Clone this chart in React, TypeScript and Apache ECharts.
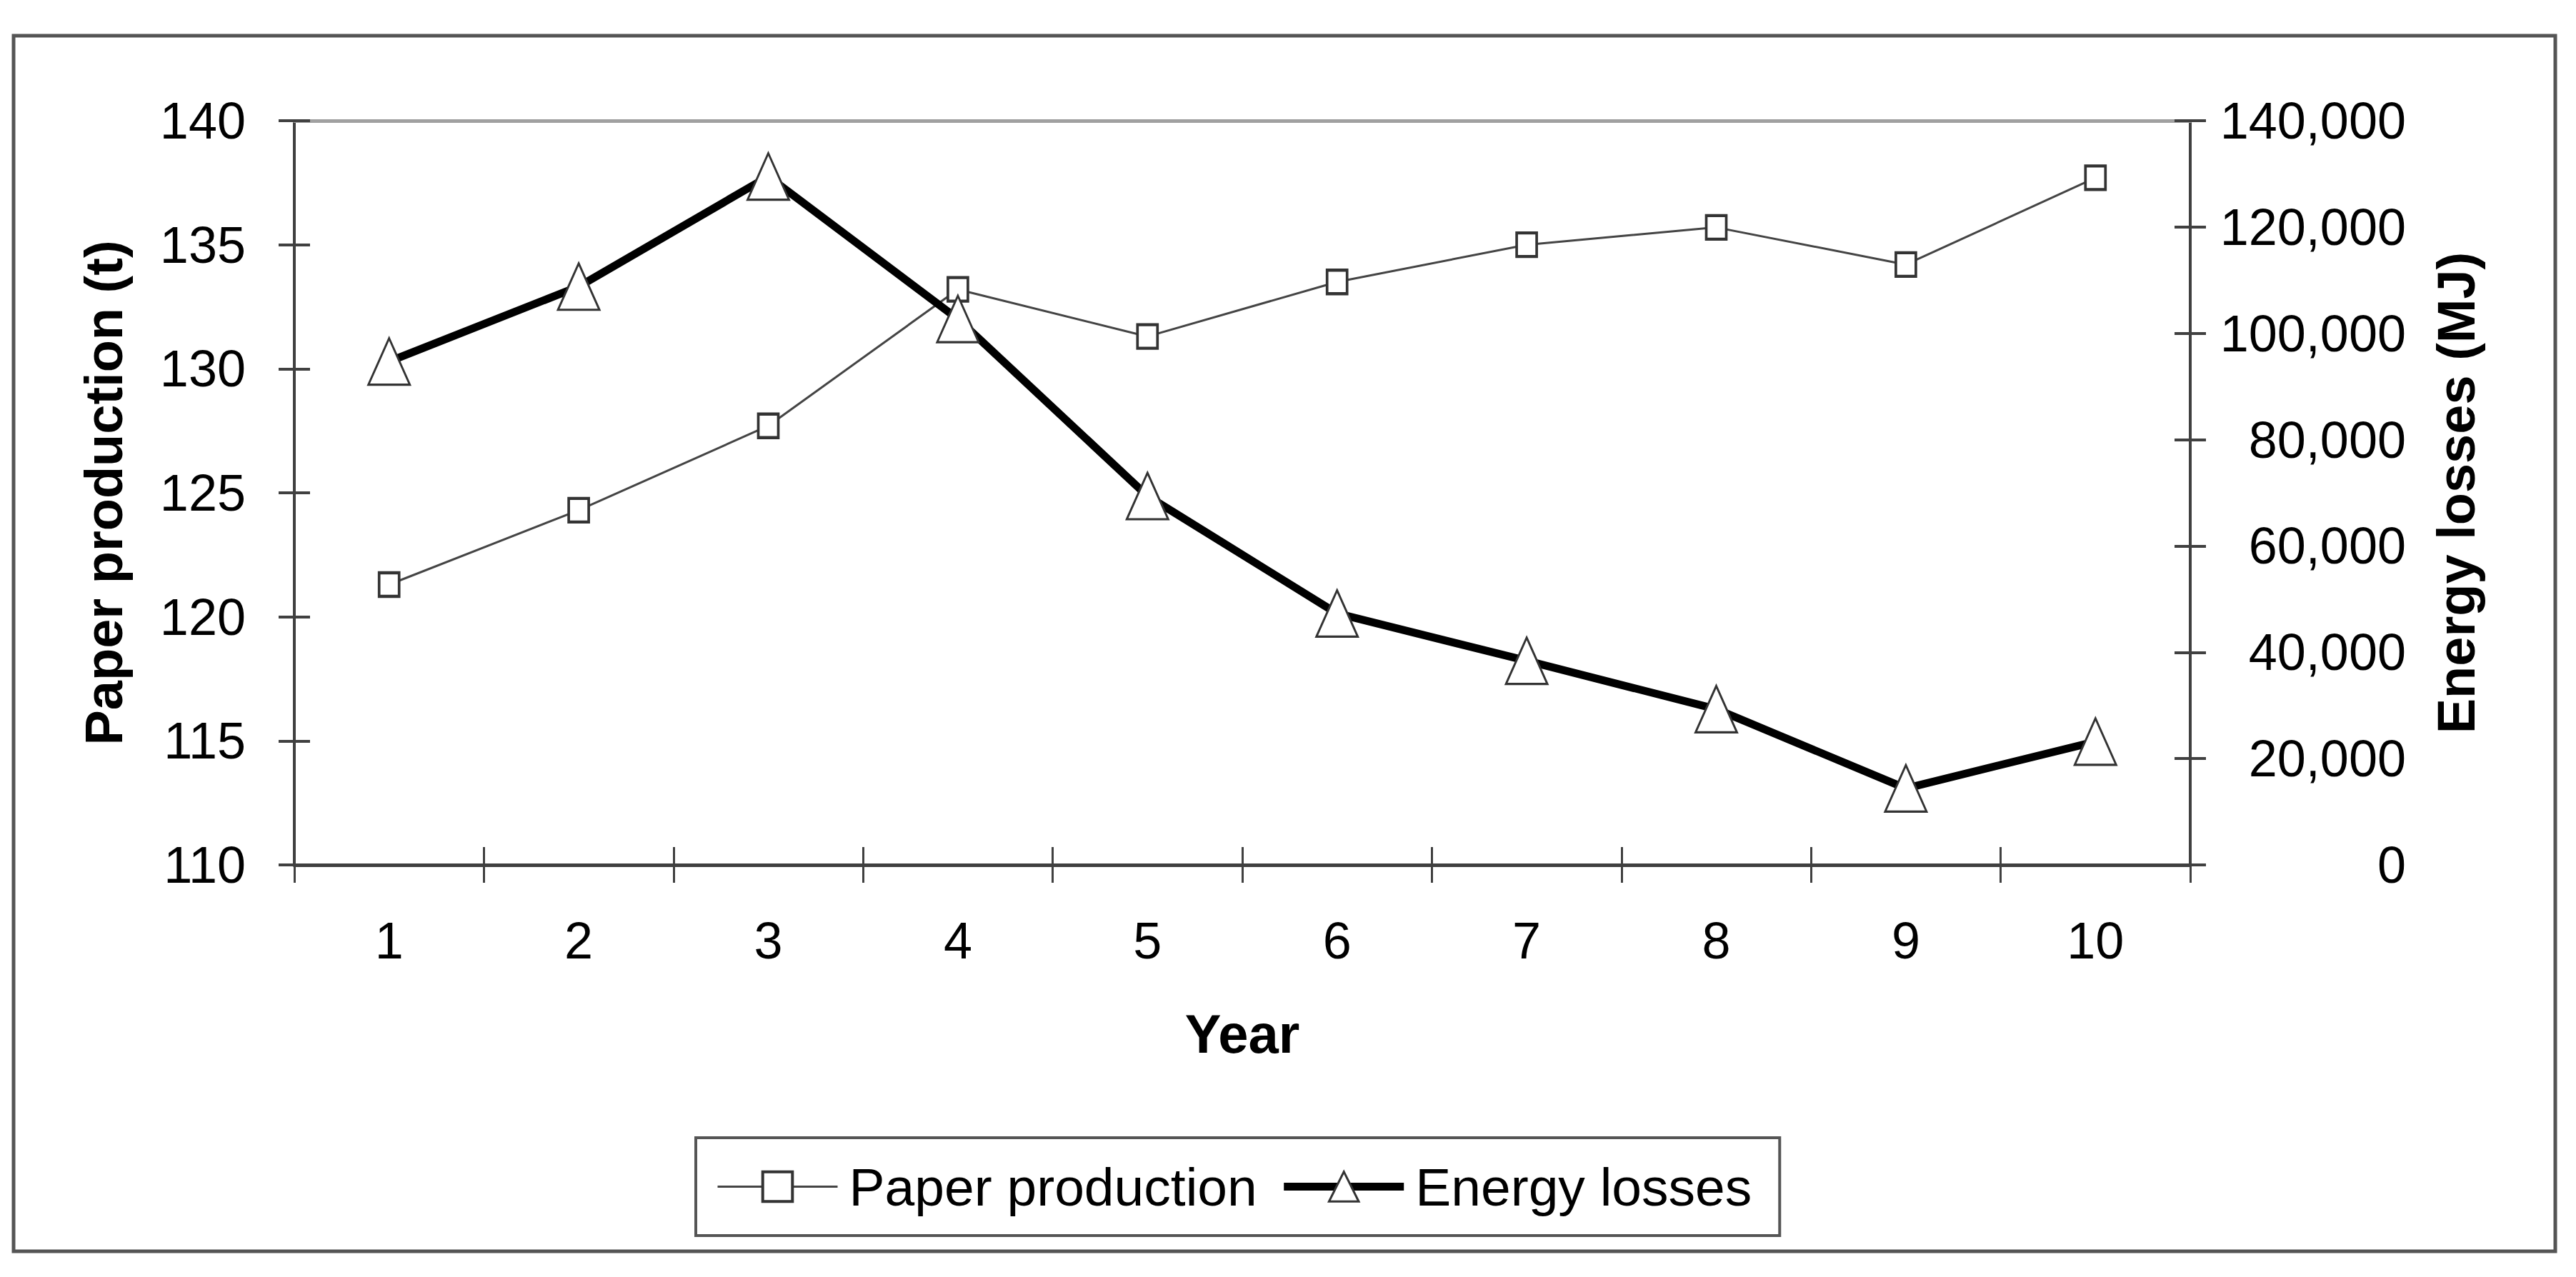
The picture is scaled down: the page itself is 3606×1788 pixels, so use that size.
import React, { useEffect, useRef } from "react";
import * as echarts from "echarts";

const years = ["1", "2", "3", "4", "5", "6", "7", "8", "9", "10"];
const paperProduction = [121.3, 124.3, 127.7, 133.2, 131.3, 133.5, 135.0, 135.7, 134.2, 137.7];
const energyLosses = [94700, 108800, 129500, 102700, 69400, 47300, 38400, 29300, 14400, 23200];
const leftAxisRange = { min: 110, max: 140, interval: 5 };
const rightAxisRange = { min: 0, max: 140000, interval: 20000 };
const seriesNames = ["Paper production", "Energy losses"];

const FONT = '"Liberation Sans", Arial, sans-serif';
const AXIS_COLOR = "#404040";
const PAPER_LINE = { color: "#444444", width: 3 };
const ENERGY_LINE = { color: "#000000", width: 11 };
const PAPER_ITEM = { color: "#ffffff", borderColor: "#333333", borderWidth: 4 };
const ENERGY_ITEM = { color: "#ffffff", borderColor: "#333333", borderWidth: 3 };

export default function App() {
  const ref = useRef<HTMLDivElement>(null);

  useEffect(() => {
    document.body.style.margin = "0";
    if (!ref.current) return;
    const chart = echarts.init(ref.current, null, { renderer: "svg" });

    const yCommon = (pos: "left" | "right", range: any) => ({
      type: "value",
      position: pos,
      min: range.min,
      max: range.max,
      interval: range.interval,
      splitLine: { show: false },
    });

    const option: any = {
      animation: false,
      backgroundColor: "#ffffff",
      grid: { left: 412, right: 540, top: 169, bottom: 577, containLabel: false },
      graphic: [
        {
          type: "rect",
          silent: true,
          z: -10,
          shape: { x: 19, y: 50, width: 3558, height: 1702 },
          style: { fill: "none", stroke: "#555555", lineWidth: 5 },
        },
      ],
      legend: {
        left: 974,
        top: 1593,
        orient: "horizontal",
        padding: [31, 39, 31, 29],
        itemWidth: 168,
        itemHeight: 52,
        itemGap: 32,
        borderColor: "#555555",
        borderWidth: 4,
        data: [
          { name: seriesNames[0], lineStyle: PAPER_LINE, itemStyle: PAPER_ITEM },
          { name: seriesNames[1], lineStyle: ENERGY_LINE, itemStyle: ENERGY_ITEM },
        ],
        textStyle: { fontSize: 75, fontFamily: FONT, color: "#000", padding: [0, 0, 0, 11], lineHeight: 75 },
      },
      xAxis: [
        {
          type: "category",
          data: years,
          position: "bottom",
          boundaryGap: true,
          name: "Year",
          nameLocation: "middle",
          nameGap: 198,
          nameTextStyle: { fontSize: 76, fontWeight: "bold", fontFamily: FONT, color: "#000" },
          axisLine: { show: true, lineStyle: { color: AXIS_COLOR, width: 5 } },
          axisTick: { show: true, length: 25, alignWithLabel: false, lineStyle: { color: AXIS_COLOR, width: 3 } },
          axisLabel: { fontSize: 72, fontFamily: FONT, color: "#000", margin: 70 },
          splitLine: { show: false },
        },
        {
          type: "category",
          data: years,
          position: "bottom",
          boundaryGap: true,
          axisLine: { show: false },
          axisTick: { show: true, inside: true, length: 25, lineStyle: { color: AXIS_COLOR, width: 3 } },
          axisLabel: { show: false },
          splitLine: { show: false },
        },
        {
          type: "category",
          data: years,
          position: "top",
          boundaryGap: true,
          axisLine: { show: true, lineStyle: { color: "#a0a0a0", width: 5 } },
          axisTick: { show: false },
          axisLabel: { show: false },
          splitLine: { show: false },
        },
      ],
      yAxis: [
        {
          ...yCommon("left", leftAxisRange),
          name: "Paper production (t)",
          nameLocation: "middle",
          nameRotate: 90,
          nameGap: 230,
          nameTextStyle: { fontSize: 74, fontWeight: "bold", fontFamily: FONT, color: "#000" },
          axisLine: { show: true, lineStyle: { color: AXIS_COLOR, width: 4 } },
          axisTick: { show: true, length: 22, lineStyle: { color: AXIS_COLOR, width: 4 } },
          axisLabel: { fontSize: 72, fontFamily: FONT, color: "#000", margin: 68 },
        },
        {
          ...yCommon("right", rightAxisRange),
          name: "Energy losses (MJ)",
          nameLocation: "middle",
          nameRotate: 90,
          nameGap: 335,
          nameTextStyle: { fontSize: 74, fontWeight: "bold", fontFamily: FONT, color: "#000" },
          axisLine: { show: true, lineStyle: { color: AXIS_COLOR, width: 4 } },
          axisTick: { show: true, length: 22, lineStyle: { color: AXIS_COLOR, width: 4 } },
          axisLabel: {
            fontSize: 72,
            fontFamily: FONT,
            color: "#000",
            margin: 302,
            align: "right",
            formatter: (v: number) => v.toLocaleString("en-US"),
          },
        },
        {
          ...yCommon("left", leftAxisRange),
          axisLine: { show: false },
          axisTick: { show: true, inside: true, length: 22, lineStyle: { color: AXIS_COLOR, width: 4 } },
          axisLabel: { show: false },
        },
        {
          ...yCommon("right", rightAxisRange),
          axisLine: { show: false },
          axisTick: { show: true, inside: true, length: 22, lineStyle: { color: AXIS_COLOR, width: 4 } },
          axisLabel: { show: false },
        },
      ],
      series: [
        {
          name: seriesNames[0],
          type: "line",
          xAxisIndex: 0,
          yAxisIndex: 0,
          data: paperProduction,
          symbol: "rect",
          symbolSize: [28, 33],
          lineStyle: PAPER_LINE,
          itemStyle: PAPER_ITEM,
          emphasis: { disabled: true },
          z: 2,
        },
        {
          name: seriesNames[1],
          type: "line",
          xAxisIndex: 0,
          yAxisIndex: 1,
          data: energyLosses,
          symbol: "triangle",
          symbolSize: [58, 65],
          lineStyle: ENERGY_LINE,
          itemStyle: ENERGY_ITEM,
          emphasis: { disabled: true },
          z: 3,
        },
      ],
    };

    chart.setOption(option);
    return () => chart.dispose();
  }, []);

  return (
    <div
      ref={ref}
      style={{ position: "fixed", left: 0, top: 0, width: 3606, height: 1788, background: "#fff" }}
    />
  );
}
